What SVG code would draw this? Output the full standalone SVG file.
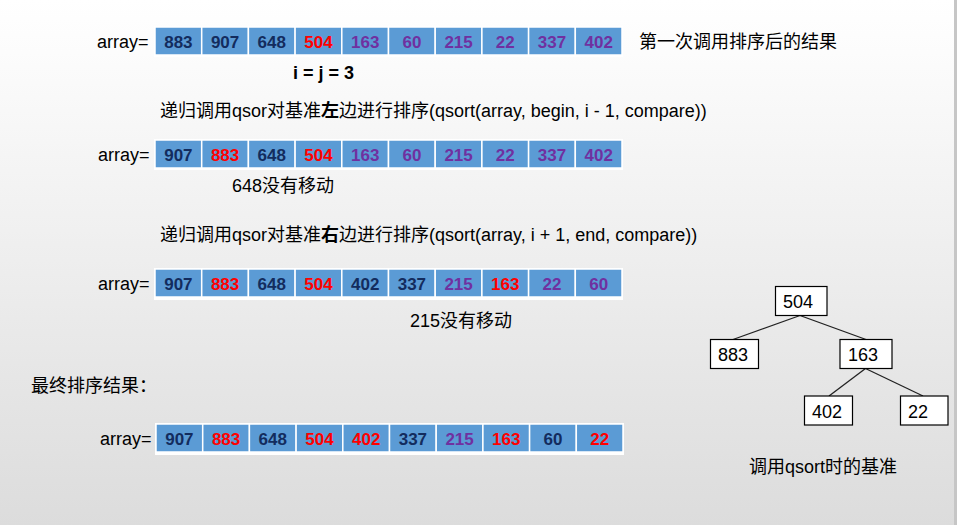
<svg xmlns="http://www.w3.org/2000/svg" width="957" height="525" viewBox="0 0 957 525">
<defs>
<linearGradient id="bg" x1="0" y1="0" x2="0" y2="1">
<stop offset="0" stop-color="#ffffff"/>
<stop offset="0.1" stop-color="#fcfcfc"/>
<stop offset="1" stop-color="#dcdcdc"/>
</linearGradient>
</defs>
<style>
text{font-family:"Liberation Sans","Noto Sans CJK SC",sans-serif;font-size:18px;fill:#000}
.cell{fill:#5b9bd5;stroke:#ffffff;stroke-width:1.5}
.frame{fill:#ffffff}
.num{font-weight:bold;font-size:17px;text-anchor:middle}
.n{fill:#132c5e}
.p{fill:#7030a0}
.r{fill:#ff0000}
.box{fill:#ffffff;stroke:#000;stroke-width:1.2}
.edge{stroke:#222;stroke-width:1.3;fill:none}
</style>
<rect x="0" y="0" width="957" height="525" fill="url(#bg)"/>
<rect x="954" y="0" width="3" height="525" fill="#c6c6c6"/>

<g id="row1" transform="translate(0,27)">
<text x="97" y="21">array=</text>
<rect class="frame" x="154" y="-1" width="469" height="31"/>
<rect class="cell" x="155" y="0" width="46.7" height="28"/><rect class="cell" x="201.7" y="0" width="46.7" height="28"/><rect class="cell" x="248.4" y="0" width="46.7" height="28"/><rect class="cell" x="295.1" y="0" width="46.7" height="28"/><rect class="cell" x="341.8" y="0" width="46.7" height="28"/><rect class="cell" x="388.5" y="0" width="46.7" height="28"/><rect class="cell" x="435.2" y="0" width="46.7" height="28"/><rect class="cell" x="481.9" y="0" width="46.7" height="28"/><rect class="cell" x="528.6" y="0" width="46.7" height="28"/><rect class="cell" x="575.3" y="0" width="46.7" height="28"/>
<text class="num n" x="178.4" y="21">883</text><text class="num n" x="225.1" y="21">907</text><text class="num n" x="271.8" y="21">648</text><text class="num r" x="318.5" y="21">504</text><text class="num p" x="365.2" y="21">163</text><text class="num p" x="411.9" y="21">60</text><text class="num p" x="458.6" y="21">215</text><text class="num p" x="505.3" y="21">22</text><text class="num p" x="552" y="21">337</text><text class="num p" x="598.7" y="21">402</text>
</g>
<text x="639" y="48">第一次调用排序后的结果</text>
<text x="293" y="79" font-weight="bold">i = j = 3</text>
<text x="160" y="117">递归调用qsor对基准<tspan font-weight="bold">左</tspan>边进行排序(qsort(array, begin, i - 1, compare))</text>

<g id="row2" transform="translate(0,140)">
<text x="98" y="21">array=</text>
<rect class="frame" x="154" y="-1" width="469" height="31"/>
<rect class="cell" x="155" y="0" width="46.7" height="28"/><rect class="cell" x="201.7" y="0" width="46.7" height="28"/><rect class="cell" x="248.4" y="0" width="46.7" height="28"/><rect class="cell" x="295.1" y="0" width="46.7" height="28"/><rect class="cell" x="341.8" y="0" width="46.7" height="28"/><rect class="cell" x="388.5" y="0" width="46.7" height="28"/><rect class="cell" x="435.2" y="0" width="46.7" height="28"/><rect class="cell" x="481.9" y="0" width="46.7" height="28"/><rect class="cell" x="528.6" y="0" width="46.7" height="28"/><rect class="cell" x="575.3" y="0" width="46.7" height="28"/>
<text class="num n" x="178.4" y="21">907</text><text class="num r" x="225.1" y="21">883</text><text class="num n" x="271.8" y="21">648</text><text class="num r" x="318.5" y="21">504</text><text class="num p" x="365.2" y="21">163</text><text class="num p" x="411.9" y="21">60</text><text class="num p" x="458.6" y="21">215</text><text class="num p" x="505.3" y="21">22</text><text class="num p" x="552" y="21">337</text><text class="num p" x="598.7" y="21">402</text>
</g>
<text x="232" y="192">648没有移动</text>
<text x="160" y="241">递归调用qsor对基准<tspan font-weight="bold">右</tspan>边进行排序(qsort(array, i + 1, end, compare))</text>

<g id="row3" transform="translate(0,269)">
<text x="98" y="21">array=</text>
<rect class="frame" x="154" y="-1" width="469" height="32"/>
<rect class="cell" x="155" y="0" width="46.7" height="28"/><rect class="cell" x="201.7" y="0" width="46.7" height="28"/><rect class="cell" x="248.4" y="0" width="46.7" height="28"/><rect class="cell" x="295.1" y="0" width="46.7" height="28"/><rect class="cell" x="341.8" y="0" width="46.7" height="28"/><rect class="cell" x="388.5" y="0" width="46.7" height="28"/><rect class="cell" x="435.2" y="0" width="46.7" height="28"/><rect class="cell" x="481.9" y="0" width="46.7" height="28"/><rect class="cell" x="528.6" y="0" width="46.7" height="28"/><rect class="cell" x="575.3" y="0" width="46.7" height="28"/>
<text class="num n" x="178.4" y="21">907</text><text class="num r" x="225.1" y="21">883</text><text class="num n" x="271.8" y="21">648</text><text class="num r" x="318.5" y="21">504</text><text class="num n" x="365.2" y="21">402</text><text class="num n" x="411.9" y="21">337</text><text class="num p" x="458.6" y="21">215</text><text class="num r" x="505.3" y="21">163</text><text class="num p" x="552" y="21">22</text><text class="num p" x="598.7" y="21">60</text>
</g>
<text x="410" y="327">215没有移动</text>
<text x="31" y="392">最终排序结果：</text>

<g id="row4" transform="translate(1,424)">
<text x="99" y="21">array=</text>
<rect class="frame" x="154" y="-1" width="469" height="32"/>
<rect class="cell" x="155" y="0" width="46.7" height="28"/><rect class="cell" x="201.7" y="0" width="46.7" height="28"/><rect class="cell" x="248.4" y="0" width="46.7" height="28"/><rect class="cell" x="295.1" y="0" width="46.7" height="28"/><rect class="cell" x="341.8" y="0" width="46.7" height="28"/><rect class="cell" x="388.5" y="0" width="46.7" height="28"/><rect class="cell" x="435.2" y="0" width="46.7" height="28"/><rect class="cell" x="481.9" y="0" width="46.7" height="28"/><rect class="cell" x="528.6" y="0" width="46.7" height="28"/><rect class="cell" x="575.3" y="0" width="46.7" height="28"/>
<text class="num n" x="178.4" y="21">907</text><text class="num r" x="225.1" y="21">883</text><text class="num n" x="271.8" y="21">648</text><text class="num r" x="318.5" y="21">504</text><text class="num r" x="365.2" y="21">402</text><text class="num n" x="411.9" y="21">337</text><text class="num p" x="458.6" y="21">215</text><text class="num r" x="505.3" y="21">163</text><text class="num n" x="552" y="21">60</text><text class="num r" x="598.7" y="21">22</text>
</g>

<g id="connectors">
<line class="edge" x1="800" y1="315.5" x2="733" y2="339.5"/>
<line class="edge" x1="800" y1="315.5" x2="866" y2="339.5"/>
<line class="edge" x1="865.5" y1="368.5" x2="829" y2="396"/>
<line class="edge" x1="865.5" y1="368.5" x2="923" y2="396"/>
</g>
<g id="n504"><rect class="box" x="775.5" y="286.5" width="51.5" height="29"/><text x="783" y="308">504</text></g>
<g id="n883"><rect class="box" x="710.5" y="339.5" width="48" height="29"/><text x="718" y="361">883</text></g>
<g id="n163"><rect class="box" x="840" y="339.5" width="52" height="29"/><text x="848" y="361">163</text></g>
<g id="n402"><rect class="box" x="804.5" y="396" width="48" height="29"/><text x="812" y="418">402</text></g>
<g id="n22"><rect class="box" x="900.5" y="396" width="47.5" height="29"/><text x="908" y="418">22</text></g>
<text x="749" y="473">调用qsort时的基准</text>
</svg>
